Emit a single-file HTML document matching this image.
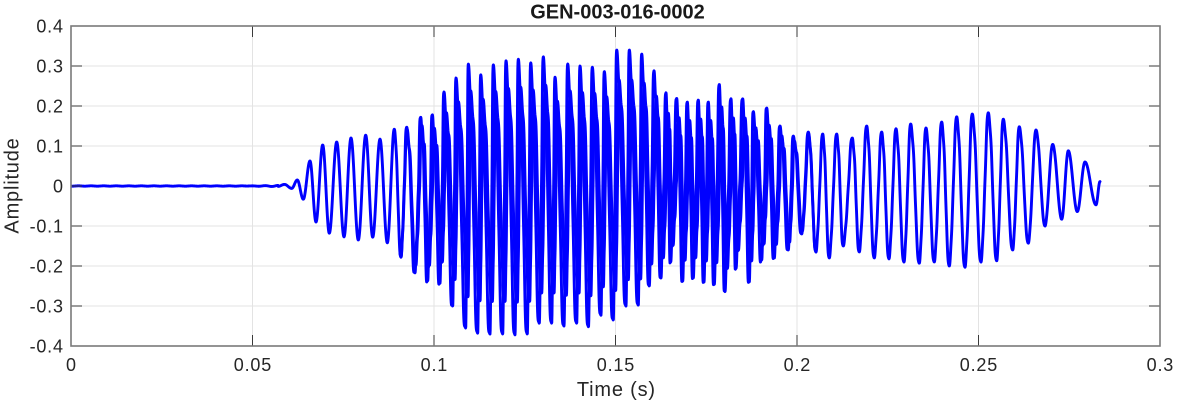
<!DOCTYPE html>
<html>
<head>
<meta charset="utf-8">
<style>
  html,body{margin:0;padding:0;background:#ffffff;}
  svg{display:block;}
  text{font-family:"Liberation Sans",Arial,sans-serif;fill:#262626;}
  .tk{font-size:18px;letter-spacing:0.8px;}
  .lab{font-size:20px;letter-spacing:0.8px;}
  .ttl{font-size:20px;font-weight:bold;fill:#1a1a1a;}
</style>
</head>
<body>
<svg id="chart" width="1177" height="404" viewBox="0 0 1177 404" xmlns="http://www.w3.org/2000/svg">
  <rect x="0" y="0" width="1177" height="404" fill="#ffffff"/>
  <defs>
    <clipPath id="pa"><rect x="71" y="26" width="1089" height="320"/></clipPath>
  </defs>
  <g stroke="#e3e3e3" stroke-width="1">
    <line x1="252.5" y1="26" x2="252.5" y2="346"/>
    <line x1="434" y1="26" x2="434" y2="346"/>
    <line x1="615.5" y1="26" x2="615.5" y2="346"/>
    <line x1="797" y1="26" x2="797" y2="346"/>
    <line x1="978.5" y1="26" x2="978.5" y2="346"/>
    <line x1="71" y1="66" x2="1160" y2="66"/>
    <line x1="71" y1="106" x2="1160" y2="106"/>
    <line x1="71" y1="146" x2="1160" y2="146"/>
    <line x1="71" y1="186" x2="1160" y2="186"/>
    <line x1="71" y1="226" x2="1160" y2="226"/>
    <line x1="71" y1="266" x2="1160" y2="266"/>
    <line x1="71" y1="306" x2="1160" y2="306"/>
  </g>
  <g clip-path="url(#pa)" fill="none" stroke="#0000ff" stroke-width="2.9" stroke-linejoin="round" stroke-linecap="round">
    <path id="sig2" d="M400 186 L401 186"/>
    <path id="sig" d="M71 186 L1100 186"/>
  </g>
  <g stroke="#3a3a3a" stroke-width="1">
    <line x1="71" y1="346" x2="71" y2="335"/><line x1="71" y1="26" x2="71" y2="37"/>
    <line x1="252.5" y1="346" x2="252.5" y2="335"/><line x1="252.5" y1="26" x2="252.5" y2="37"/>
    <line x1="434" y1="346" x2="434" y2="335"/><line x1="434" y1="26" x2="434" y2="37"/>
    <line x1="615.5" y1="346" x2="615.5" y2="335"/><line x1="615.5" y1="26" x2="615.5" y2="37"/>
    <line x1="797" y1="346" x2="797" y2="335"/><line x1="797" y1="26" x2="797" y2="37"/>
    <line x1="978.5" y1="346" x2="978.5" y2="335"/><line x1="978.5" y1="26" x2="978.5" y2="37"/>
    <line x1="1160" y1="346" x2="1160" y2="335"/><line x1="1160" y1="26" x2="1160" y2="37"/>
    <line x1="71" y1="26" x2="82" y2="26"/><line x1="1160" y1="26" x2="1149" y2="26"/>
    <line x1="71" y1="66" x2="82" y2="66"/><line x1="1160" y1="66" x2="1149" y2="66"/>
    <line x1="71" y1="106" x2="82" y2="106"/><line x1="1160" y1="106" x2="1149" y2="106"/>
    <line x1="71" y1="146" x2="82" y2="146"/><line x1="1160" y1="146" x2="1149" y2="146"/>
    <line x1="71" y1="186" x2="82" y2="186"/><line x1="1160" y1="186" x2="1149" y2="186"/>
    <line x1="71" y1="226" x2="82" y2="226"/><line x1="1160" y1="226" x2="1149" y2="226"/>
    <line x1="71" y1="266" x2="82" y2="266"/><line x1="1160" y1="266" x2="1149" y2="266"/>
    <line x1="71" y1="306" x2="82" y2="306"/><line x1="1160" y1="306" x2="1149" y2="306"/>
    <line x1="71" y1="346" x2="82" y2="346"/><line x1="1160" y1="346" x2="1149" y2="346"/>
  </g>
  <rect x="71" y="26" width="1089" height="320" fill="none" stroke="#7a7a7a" stroke-width="1.6"/>
  <g class="tk" text-anchor="end">
    <text x="63.8" y="32.5">0.4</text>
    <text x="63.8" y="72.5">0.3</text>
    <text x="63.8" y="112.5">0.2</text>
    <text x="63.8" y="152.5">0.1</text>
    <text x="63.8" y="192.5">0</text>
    <text x="63.8" y="232.5">-0.1</text>
    <text x="63.8" y="272.5">-0.2</text>
    <text x="63.8" y="312.5">-0.3</text>
    <text x="63.8" y="352.5">-0.4</text>
  </g>
  <g class="tk" text-anchor="middle">
    <text x="71.4" y="371">0</text>
    <text x="252.9" y="371">0.05</text>
    <text x="434.4" y="371">0.1</text>
    <text x="615.9" y="371">0.15</text>
    <text x="797.4" y="371">0.2</text>
    <text x="978.9" y="371">0.25</text>
    <text x="1160.4" y="371">0.3</text>
  </g>
  <text class="lab" x="616.4" y="396" text-anchor="middle">Time (s)</text>
  <text class="lab" text-anchor="middle" transform="translate(18.3,185.5) rotate(-90)">Amplitude</text>
  <text class="ttl" x="617.5" y="18.5" text-anchor="middle">GEN-003-016-0002</text>
</svg>
<script>
(function(){
  var P=[
[284.5,0.004,291.7,-0.006],[297.3,0.015,303.3,-0.033],[310,0.0625,316,-0.09],
[322.7,0.1025,329.3,-0.118],[336.7,0.11,344,-0.127],[351,0.12,358.3,-0.135],
[365.7,0.127,372.7,-0.128],[380,0.117,387.3,-0.142],[394.3,0.142,401,-0.178],
[406.7,0.147,415,-0.217],[420.7,0.172,427.7,-0.237],[432.3,0.178,440,-0.243],
[444,0.235,452.7,-0.30],[456,0.27,465.7,-0.355],[468.3,0.305,477.7,-0.368],
[480.7,0.278,490,-0.37],[493.3,0.303,502.7,-0.37],[506,0.313,515,-0.372],
[518.3,0.317,527.3,-0.37],[530.7,0.308,539.3,-0.343],[543.3,0.323,551.7,-0.343],
[555,0.272,564,-0.35],[567.7,0.305,576.7,-0.343],[580,0.30,588.5,-0.352],
[592.3,0.297,601,-0.323],[604.3,0.286,613.3,-0.335],[616.7,0.34,626,-0.30],
[629.3,0.34,638.3,-0.298],[641.7,0.33,649.3,-0.25],[654,0.288,661,-0.23],
[666,0.233,670.7,-0.19],[676.7,0.219,682.7,-0.238],[687.3,0.21,693.3,-0.23],
[698.3,0.215,704,-0.24],[708.3,0.21,714.3,-0.246],[719.3,0.254,725,-0.264],
[731,0.218,736,-0.206],[742.7,0.218,749.3,-0.24],[753.3,0.186,761.7,-0.185],
[766.7,0.195,774.3,-0.18],[780,0.15,788.3,-0.16],[793.3,0.125,801.7,-0.12],
[808.3,0.135,816,-0.165],[822.7,0.13,829.3,-0.18],[836.7,0.13,843.3,-0.15],
[852.3,0.12,859.3,-0.165],[866.7,0.15,874.3,-0.18],[881.7,0.135,889,-0.182],
[896,0.143,904,-0.19],[910.7,0.155,919.3,-0.193],[926,0.145,934.3,-0.19],
[941.7,0.16,949.3,-0.2],[956.7,0.173,965,-0.203],[972.3,0.18,981,-0.19],
[988.3,0.183,996.7,-0.187],[1003.3,0.167,1012.7,-0.16],[1019.3,0.148,1028.3,-0.143],
[1036,0.14,1045,-0.10],[1052.7,0.104,1061.7,-0.083],[1068.3,0.088,1077.3,-0.064],
[1085,0.06,1096,-0.047]
  ];
  var E=[[278,-0.001]];
  for(var i=0;i<P.length;i++){E.push([P[i][0],P[i][1]]);E.push([P[i][2],P[i][3]]);}
  E.push([1100,0.011]);
  function D(x){
    if(x<390) return 0;
    if(x<425) return 0.11*(x-390)/35;
    if(x<765) return 0.11;
    if(x<805) return 0.11-0.08*(x-765)/40;
    if(x<1000) return 0.03;
    if(x<1060) return 0.03*(1060-x)/60;
    return 0;
  }
  var seg=0;
  function val(x){
    if(x<278){
      if(x<245) return 0.0004*Math.sin(x*0.5);
      return 0.0015*Math.sin(x*0.48)*((x-245)/33);
    }
    while(seg<E.length-2 && x>E[seg+1][0]) seg++;
    var x0=E[seg][0],v0=E[seg][1],x1=E[seg+1][0],v1=E[seg+1][1];
    var t=(x-x0)/(x1-x0); if(t<0)t=0; if(t>1)t=1;
    var v=v0+(v1-v0)*(1-Math.cos(Math.PI*t))/2;
    var ph=(seg+t)*0.5;
    var d=D(x);
    if(d>0){
      var w=Math.sin(2*Math.PI*ph); w=w*w;
      v+=d*w*(0.6*Math.sin(2*Math.PI*3*ph)+0.4*Math.sin(2*Math.PI*5*ph)+0.3*Math.sin(2*Math.PI*2*ph));
    }
    return v;
  }
  var parts=[];
  for(var x=71;x<=1100.001;x+=0.2){
    var y=186-val(x)*400;
    parts.push((parts.length?'L':'M')+x.toFixed(2)+' '+y.toFixed(2));
  }
  document.getElementById('sig').setAttribute('d',parts.join(''));

  // secondary pass: offset, reduced-amplitude copy; converges onto main trace at both ends
  function S(x){
    if(x<400) return 0;
    if(x<440) return (x-400)/40;
    if(x<770) return 1;
    if(x<815) return (815-x)/45;
    return 0;
  }
  seg=0;
  var off=2.4;
  var p2=[];
  for(var x2=400;x2<=815.001;x2+=0.2){
    var s=S(x2);
    var v2=val(x2-off*s)*(1-0.22*s);
    var y2=186-v2*400;
    p2.push((p2.length?'L':'M')+x2.toFixed(2)+' '+y2.toFixed(2));
  }
  document.getElementById('sig2').setAttribute('d',p2.join(''));
})();
</script>
</body>
</html>
